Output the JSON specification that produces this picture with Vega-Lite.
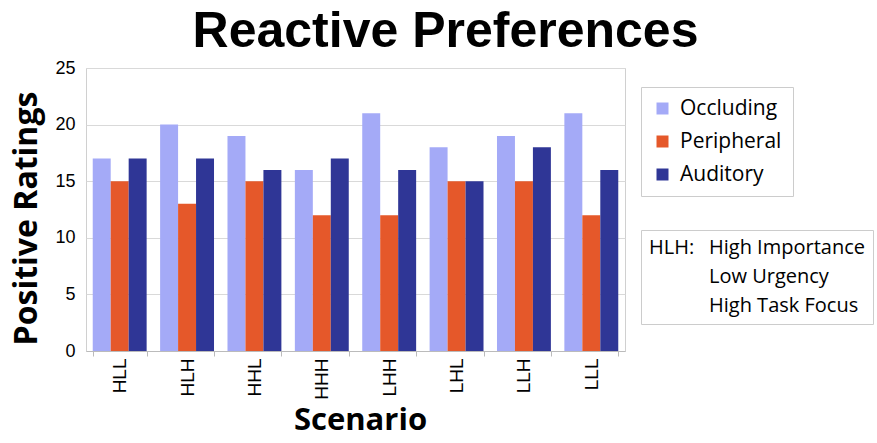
{
  "$schema": "https://vega.github.io/schema/vega-lite/v6.json",
  "width": 539,
  "height": 283,
  "autosize": {"type": "none"},
  "padding": {"left": 86, "top": 68, "right": 252, "bottom": 92},
  "background": "white",
  "title": {
    "text": "Reactive Preferences",
    "font": "Liberation Sans",
    "fontSize": 50,
    "fontWeight": "bold",
    "color": "black",
    "anchor": "middle",
    "dx": 90,
    "offset": 2
  },
  "config": {
    "view": {"stroke": "#d0d0d0", "strokeWidth": 1}
  },
  "layer": [
    {
      "data": {
        "values": [
          {"scenario": "HLL", "type": "Occluding", "value": 17},
          {"scenario": "HLL", "type": "Peripheral", "value": 15},
          {"scenario": "HLL", "type": "Auditory", "value": 17},
          {"scenario": "HLH", "type": "Occluding", "value": 20},
          {"scenario": "HLH", "type": "Peripheral", "value": 13},
          {"scenario": "HLH", "type": "Auditory", "value": 17},
          {"scenario": "HHL", "type": "Occluding", "value": 19},
          {"scenario": "HHL", "type": "Peripheral", "value": 15},
          {"scenario": "HHL", "type": "Auditory", "value": 16},
          {"scenario": "HHH", "type": "Occluding", "value": 16},
          {"scenario": "HHH", "type": "Peripheral", "value": 12},
          {"scenario": "HHH", "type": "Auditory", "value": 17},
          {"scenario": "LHH", "type": "Occluding", "value": 21},
          {"scenario": "LHH", "type": "Peripheral", "value": 12},
          {"scenario": "LHH", "type": "Auditory", "value": 16},
          {"scenario": "LHL", "type": "Occluding", "value": 18},
          {"scenario": "LHL", "type": "Peripheral", "value": 15},
          {"scenario": "LHL", "type": "Auditory", "value": 15},
          {"scenario": "LLH", "type": "Occluding", "value": 19},
          {"scenario": "LLH", "type": "Peripheral", "value": 15},
          {"scenario": "LLH", "type": "Auditory", "value": 18},
          {"scenario": "LLL", "type": "Occluding", "value": 21},
          {"scenario": "LLL", "type": "Peripheral", "value": 12},
          {"scenario": "LLL", "type": "Auditory", "value": 16}
        ]
      },
      "mark": {"type": "bar"},
      "encoding": {
        "x": {
          "field": "scenario",
          "type": "nominal",
          "sort": ["HLL", "HLH", "HHL", "HHH", "LHH", "LHL", "LLH", "LLL"],
          "scale": {"paddingInner": 0.2, "paddingOuter": 0.1},
          "axis": {
            "title": "Scenario",
            "titleFont": "Open Sans",
            "titleFontSize": 31,
            "titleFontWeight": "bold",
            "titleColor": "black",
            "titlePadding": 6,
            "titleX": 274,
            "labelAngle": -90,
            "labelFont": "Liberation Sans",
            "labelFontSize": 19,
            "labelColor": "black",
            "labelPadding": 2,
            "tickBand": "extent",
            "tickSize": 5,
            "tickColor": "#bbbbbb",
            "domainColor": "#bbbbbb",
            "grid": false
          }
        },
        "xOffset": {
          "field": "type",
          "type": "nominal",
          "sort": ["Occluding", "Peripheral", "Auditory"]
        },
        "y": {
          "field": "value",
          "type": "quantitative",
          "scale": {"domain": [0, 25], "nice": false},
          "axis": {
            "title": "Positive Ratings",
            "titleFont": "Open Sans",
            "titleFontSize": 32,
            "titleFontWeight": "bold",
            "titleColor": "black",
            "titlePadding": 11,
            "titleY": 150,
            "values": [0, 5, 10, 15, 20, 25],
            "labelFont": "Liberation Sans",
            "labelFontSize": 18,
            "labelColor": "black",
            "labelPadding": 11,
            "ticks": false,
            "domain": false,
            "gridColor": "#d9d9d9",
            "gridWidth": 1
          }
        },
        "color": {
          "field": "type",
          "type": "nominal",
          "sort": ["Occluding", "Peripheral", "Auditory"],
          "scale": {
            "domain": ["Occluding", "Peripheral", "Auditory"],
            "range": ["#a4aaf7", "#e5582a", "#2f3696"]
          },
          "legend": {
            "orient": "none",
            "legendX": 555,
            "legendY": 19,
            "title": null,
            "direction": "vertical",
            "fillColor": "white",
            "strokeColor": "#cccccc",
            "padding": 11,
            "symbolType": "square",
            "symbolSize": 144,
            "symbolStrokeWidth": 0,
            "labelFont": "Open Sans",
            "labelFontSize": 21,
            "labelColor": "black",
            "labelOffset": 7,
            "rowPadding": 11
          }
        }
      }
    },
    {
      "data": {
        "values": [
          {"note": "High Importance"},
          {"note": "Low Urgency"},
          {"note": "High Task Focus"}
        ]
      },
      "mark": {"type": "point", "opacity": 0},
      "encoding": {
        "shape": {
          "field": "note",
          "type": "nominal",
          "sort": ["High Importance", "Low Urgency", "High Task Focus"],
          "legend": {
            "orient": "none",
            "legendX": 555,
            "legendY": 162,
            "title": "HLH:",
            "titleOrient": "left",
            "titleAngle": 0,
            "titleAnchor": "start",
            "titleBaseline": "top",
            "titleAlign": "left",
            "titleFont": "Open Sans",
            "titleFontSize": 20,
            "titleFontWeight": "normal",
            "titleColor": "black",
            "titlePadding": -6,
            "fillColor": "white",
            "strokeColor": "#cccccc",
            "padding": 8,
            "symbolSize": 0,
            "symbolOpacity": 0,
            "symbolStrokeWidth": 0,
            "labelOffset": 0,
            "labelFont": "Open Sans",
            "labelFontSize": 20,
            "labelColor": "black",
            "rowPadding": 9
          }
        }
      }
    }
  ]
}
